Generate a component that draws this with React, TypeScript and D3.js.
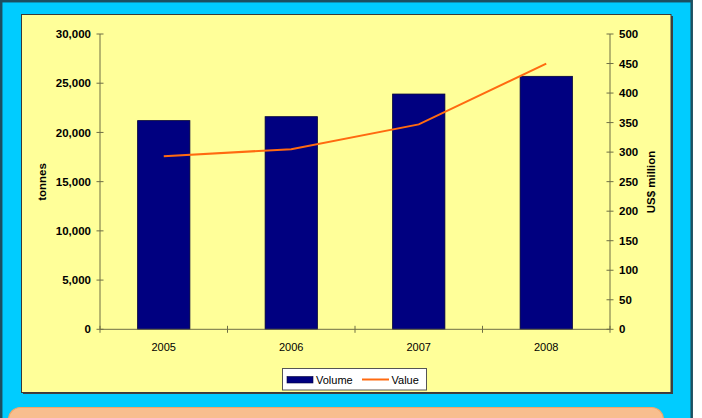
import React from "react";
import * as d3 from "d3";

const years = ["2005", "2006", "2007", "2008"];
const volume = [21200, 21600, 23900, 25700];
const value = [293, 305, 347, 450];
const leftTicks = [0, 5000, 10000, 15000, 20000, 25000, 30000];
const rightTicks = [0, 50, 100, 150, 200, 250, 300, 350, 400, 450, 500];

export default function App() {
  const x0 = 100, x1 = 610, yTop = 34, yBot = 329.3;
  const x = d3.scaleBand<string>().domain(years).range([x0, x1]).paddingInner(0.59).paddingOuter(0.295);
  const yL = d3.scaleLinear().domain([0, 30000]).range([yBot, yTop]);
  const yR = d3.scaleLinear().domain([0, 500]).range([yBot, yTop]);
  const step = (x1 - x0) / years.length;
  const fmt = d3.format(",");
  const line = d3
    .line<number>()
    .x((_, i) => (x(years[i]) as number) + x.bandwidth() / 2)
    .y((d) => yR(d));
  const axisColor = "#6e6e45";
  const font = "Arial, 'Liberation Sans', sans-serif";

  return (
    <div style={{ position: "absolute", left: 0, top: 0 }}>
      <svg width={702} height={418} style={{ display: "block" }} fontFamily={font}>
        <rect x={0} y={0} width={702} height={418} fill="#ffffff" />
        <rect x={1.2} y={1.2} width={690.5} height={430} fill="#00CCFF" stroke="#1c4f60" strokeWidth={2.5} />
        {/* panel */}
        <rect x={23} y={16} width={650} height={378} fill="#404040" />
        <rect x={21.5} y={14.5} width={649.5} height={378} fill="#FFFF99" stroke="#3a3a3a" strokeWidth={1} />
        {/* bottom orange box */}
        <rect x={8.5} y={407.5} width={655} height={40} rx={12} ry={12} fill="#F8BE8E" stroke="#F2A66A" strokeWidth={1.2} />

        {/* bars */}
        {years.map((yr, i) => (
          <rect
            key={yr}
            x={x(yr)}
            y={yL(volume[i])}
            width={x.bandwidth()}
            height={yBot - yL(volume[i])}
            fill="#000080"
            stroke="#00003a"
            strokeWidth={0.8}
          />
        ))}

        {/* axes */}
        <line x1={x0} x2={x0} y1={yTop} y2={yBot} stroke={axisColor} strokeWidth={1} />
        <line x1={x1} x2={x1} y1={yTop} y2={yBot} stroke={axisColor} strokeWidth={1} />
        <line x1={x0} x2={x1} y1={yBot} y2={yBot} stroke={axisColor} strokeWidth={1} />
        {leftTicks.map((t) => (
          <g key={"l" + t}>
            <line x1={x0 - 3.5} x2={x0 + 3.5} y1={yL(t)} y2={yL(t)} stroke={axisColor} />
            <text x={x0 - 9} y={yL(t)} dy="0.36em" textAnchor="end" fontSize={11.5} fontWeight="bold" fill="#000">
              {fmt(t)}
            </text>
          </g>
        ))}
        {rightTicks.map((t) => (
          <g key={"r" + t}>
            <line x1={x1 - 3.5} x2={x1 + 3.5} y1={yR(t)} y2={yR(t)} stroke={axisColor} />
            <text x={x1 + 9} y={yR(t)} dy="0.36em" textAnchor="start" fontSize={11.5} fontWeight="bold" fill="#000">
              {t}
            </text>
          </g>
        ))}
        {d3.range(years.length + 1).map((i) => (
          <line key={"c" + i} x1={x0 + i * step} x2={x0 + i * step} y1={yBot - 3.5} y2={yBot + 3.5} stroke={axisColor} />
        ))}
        {years.map((yr) => (
          <text key={"t" + yr} x={(x(yr) as number) + x.bandwidth() / 2} y={351} textAnchor="middle" fontSize={11} fill="#000">
            {yr}
          </text>
        ))}

        {/* value line */}
        <path d={line(value) || ""} fill="none" stroke="#FF6A10" strokeWidth={2} />

        {/* axis titles */}
        <text transform="translate(46,182) rotate(-90)" textAnchor="middle" fontSize={11.5} fontWeight="bold" fill="#000">
          tonnes
        </text>
        <text transform="translate(655,182) rotate(-90)" textAnchor="middle" fontSize={11.5} fontWeight="bold" fill="#000">
          US$ million
        </text>

        {/* legend */}
        <rect x={282.5} y={368.5} width={144} height={21.5} fill="#ffffff" stroke="#555" strokeWidth={1} />
        <rect x={287} y={376.5} width={26} height={6.5} fill="#000080" stroke="#00003a" strokeWidth={0.6} />
        <text x={316} y={383.5} fontSize={11} fill="#000">Volume</text>
        <line x1={362} x2={389} y1={379.5} y2={379.5} stroke="#FF6A10" strokeWidth={2} />
        <text x={391.5} y={383.5} fontSize={11} fill="#000">Value</text>
      </svg>
    </div>
  );
}
